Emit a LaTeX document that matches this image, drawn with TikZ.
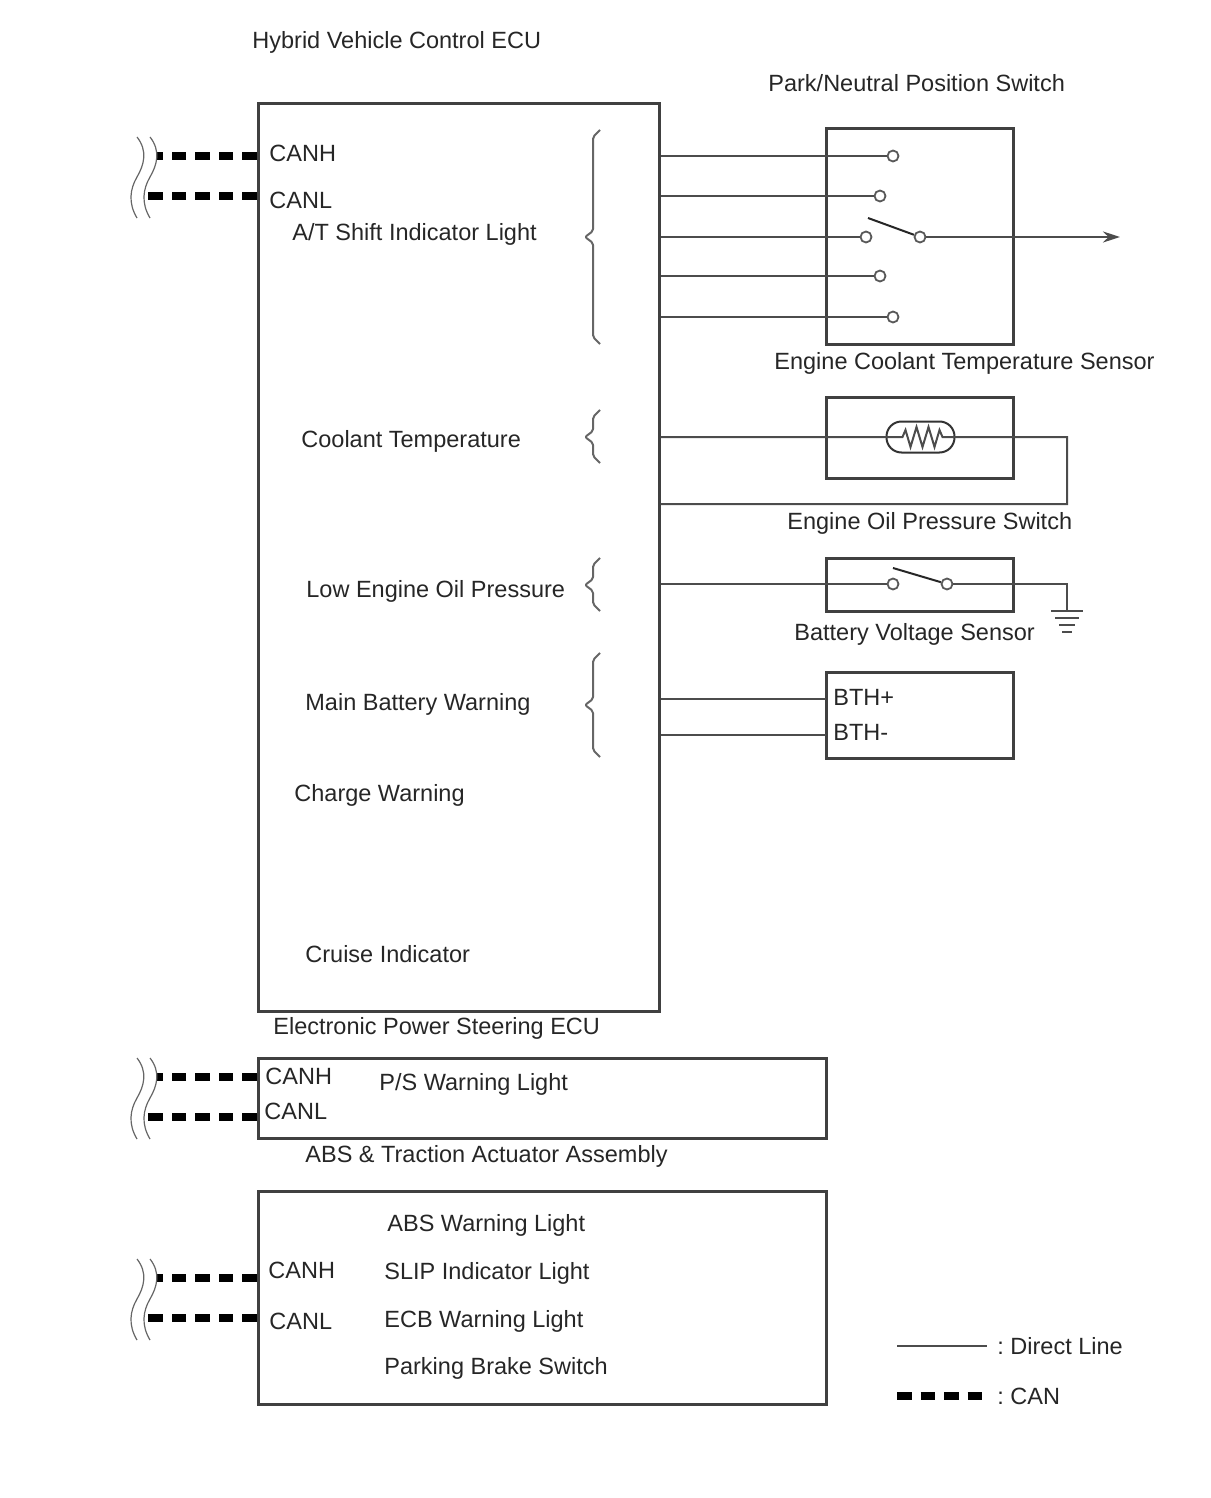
\documentclass[tikz,border=0pt]{standalone}
\usepackage{fontspec}
\setmainfont{Liberation Sans}
\usetikzlibrary{arrows.meta}
\frenchspacing

\tikzset{
	unit/.style = {draw = black!75, line width = 1.5pt, inner sep = 0pt},
	wire/.style = {draw = black!70, line width = 1pt},
	can/.style = {draw = black, line width = 4pt, dash pattern = on 7.25pt off 4.5pt},
	term/.style = {circle, draw = black!65, line width = 0.9pt, fill = white, inner sep = 0pt, minimum size = 5.5pt},
	lbl/.style = {anchor = base west, inner sep = 0pt, text = black!85, font = \fontsize{11.75}{14}\selectfont},
	blade/.style = {draw = black!85, line width = 1pt},
	brc/.style = {draw = black!60, line width = 1pt, line join = round, rounded corners = 1pt},
	wave/.style = {draw = black!60, line width = 0.6pt}
}

\begin{document}
\begin{tikzpicture}[x = 0.5pt, y = -0.5pt]
\useasboundingbox (0, 0) rectangle (1210, 1498);

\node[unit, minimum width = 200.5pt, minimum height = 453.5pt] (ecu) at (458.5, 557.5) {};
\node[unit, minimum width = 93.5pt, minimum height = 107.5pt] (pnp) at (919.5, 236.5) {};
\node[unit, minimum width = 93.5pt, minimum height = 40.5pt] (ect) at (919.5, 437.5) {};
\node[unit, minimum width = 93.5pt, minimum height = 26.5pt] (oil) at (919.5, 584.5) {};
\node[unit, minimum width = 93.5pt, minimum height = 43pt] (bvs) at (919.5, 715) {};
\node[unit, minimum width = 284pt, minimum height = 40pt] (eps) at (542, 1098) {};
\node[unit, minimum width = 284pt, minimum height = 106.5pt] (abs) at (542, 1297.5) {};

% labels
\node[lbl] (ecutxt) at (252, 49) {Hybrid Vehicle Control ECU};
\node[lbl] (pnptxt) at (768, 92) {Park/Neutral Position Switch};
\node[lbl] (ecuh) at (269, 162) {CANH};
\node[lbl] (eculo) at (269, 209) {CANL};
\node[lbl] (atlamp) at (292, 241) {A/T Shift Indicator Light};
\node[lbl] (ecttxt) at (774, 369) {Engine Coolant Temperature Sensor};
\node[lbl] (coolant) at (301, 447) {Coolant Temperature};
\node[lbl] (oiltxt) at (787, 529) {Engine Oil Pressure Switch};
\node[lbl] (lowoil) at (306, 597) {Low Engine Oil Pressure};
\node[lbl] (bvstxt) at (794, 640) {Battery Voltage Sensor};
\node[lbl] (bthp) at (833, 705) {BTH+};
\node[lbl] (mainbat) at (305, 710) {Main Battery Warning};
\node[lbl] (bthm) at (833, 740) {BTH-};
\node[lbl] (charge) at (294, 801) {Charge Warning};
\node[lbl] (cruise) at (305, 962) {Cruise Indicator};
\node[lbl] (epstxt) at (273, 1034) {Electronic Power Steering ECU};
\node[lbl] (epsh) at (265, 1084) {CANH};
\node[lbl] (pslamp) at (379, 1090) {P/S Warning Light};
\node[lbl] (epslo) at (264, 1119) {CANL};
\node[lbl] (abstxt) at (305, 1162) {ABS \& Traction Actuator Assembly};
\node[lbl] (abslamp) at (387, 1231) {ABS Warning Light};
\node[lbl] (absh) at (268, 1278) {CANH};
\node[lbl] (sliplamp) at (384, 1279) {SLIP Indicator Light};
\node[lbl] (ecblamp) at (384, 1327) {ECB Warning Light};
\node[lbl] (abslo) at (269, 1329) {CANL};
\node[lbl] (parking) at (384, 1374) {Parking Brake Switch};
\node[lbl] (legdirect) at (997, 1354) {: Direct Line};
\node[lbl] (legcan) at (997, 1404) {: CAN};

% shift position switch
\node[term] (p1) at (893, 156) {};
\node[term] (p2) at (880, 196) {};
\node[term] (p3) at (866, 237) {};
\node[term] (p4) at (880, 276) {};
\node[term] (p5) at (893, 317) {};
\node[term] (pc) at (920, 237) {};
\coordinate (pout) at (1120, 237);
\coordinate (ptip) at (868, 218);

\foreach \t in {p1, p2, p3, p4, p5}
	\draw[wire] (\t -| ecu.east) -- (\t);
\draw[wire, -{Stealth[length = 8.5pt, width = 5.5pt]}] (pc) -- (pout);
\draw[blade] (ptip) -- (pc);

% coolant sensor
\node[draw = black!80, line width = 1pt, rounded corners = 7.5pt, minimum width = 34pt, minimum height = 15.5pt, inner sep = 0pt] (therm) at (920.5, 437) {};
\coordinate (ectcorner) at (1067, 437);
\coordinate (ectback) at (1067, 504);
\draw[wire] (therm.center -| ecu.east) -- ++(242, 0) -- ++(3, -7) -- ++(5, 17) -- ++(6, -20) -- ++(6, 20) -- ++(6, -20) -- ++(6, 20) -- ++(5, -17) -- ++(3, 7) -- (ectcorner) -- (ectback) -- (ectback -| ecu.east);

% oil switch
\node[term] (o1) at (893, 584) {};
\node[term] (o2) at (947, 584) {};
\coordinate (otip) at (893, 568);
\coordinate (ocorner) at (1067, 584);
\coordinate (gnd) at (1067, 611);
\draw[wire] (o1 -| ecu.east) -- (o1);
\draw[wire] (o2) -- (ocorner) -- (gnd);
\draw[blade] (otip) -- (o2);
\draw[wire] ([xshift = -8pt] gnd) -- ([xshift = 8pt] gnd);
\draw[wire] ([xshift = -6pt, yshift = -3.5pt] gnd) -- ([xshift = 6pt, yshift = -3.5pt] gnd);
\draw[wire] ([xshift = -4pt, yshift = -7pt] gnd) -- ([xshift = 4pt, yshift = -7pt] gnd);
\draw[wire] ([xshift = -2.5pt, yshift = -10.5pt] gnd) -- ([xshift = 2.5pt, yshift = -10.5pt] gnd);

% battery sensor
\coordinate (b1) at (826, 699);
\coordinate (b2) at (826, 735);
\draw[wire] (b1 -| ecu.east) -- (b1);
\draw[wire] (b2 -| ecu.east) -- (b2);

% braces
\foreach \a/\m/\b in {130/237/344, 410/437/463, 558/585/611, 653/705/757}
	\draw[brc] (600, \a) -- (593, \a + 7) -- (593, \m - 6) -- (585, \m) -- (593, \m + 6) -- (593, \b - 7) -- (600, \b);

% CAN lines
\coordinate (c1) at (156, 156);
\coordinate (c2) at (148, 196);
\coordinate (c3) at (156, 1077);
\coordinate (c4) at (148, 1117);
\coordinate (c5) at (156, 1278);
\coordinate (c6) at (148, 1318);
\foreach \c in {c1, c2}
	\draw[can] (\c -| ecu.west) -- (\c);
\foreach \c in {c3, c4}
	\draw[can] (\c -| eps.west) -- (\c);
\foreach \c in {c5, c6}
	\draw[can] (\c -| abs.west) -- (\c);

\foreach \y in {137, 1058, 1259}
	\foreach \x in {137, 150}
		\draw[wave] (\x, \y) .. controls (\x + 11, \y + 14) and (\x + 7, \y + 28) .. (\x + 0, \y + 40) .. controls (\x - 7, \y + 52) and (\x - 9, \y + 66) .. (\x, \y + 81);

% legend
\coordinate (l1) at (897, 1346);
\coordinate (l2) at (987, 1346);
\coordinate (l3) at (985, 1396);
\coordinate (l4) at (897, 1396);
\draw[wire] (l1) -- (l2);
\draw[can] (l4) -- (l3);

\end{tikzpicture}
\end{document}
